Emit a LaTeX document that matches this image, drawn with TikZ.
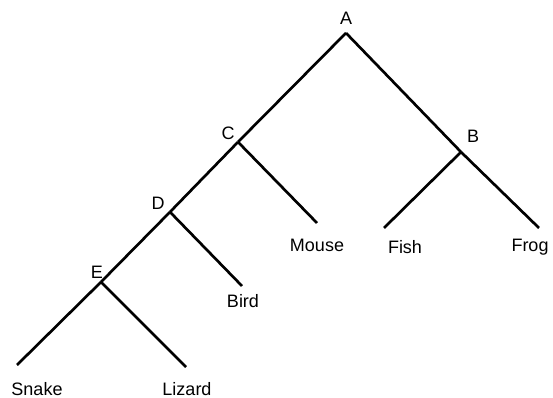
\documentclass[tikz,border=0pt]{standalone}
\usepackage{fontspec}
\setmainfont{Liberation Sans}
\usepackage{tikz}

\begin{document}
\begin{tikzpicture}[x=0.75pt,y=-0.75pt,
  branch/.style={line width=2pt},
  lbl/.style={font=\fontsize{13.5}{16}\selectfont, inner sep=0pt}]
\useasboundingbox (0,0) rectangle (553,398);
\coordinate (A) at (346,33);
\coordinate (B) at (461,152);
\coordinate (C) at (238,142);
\coordinate (D) at (170,212);
\coordinate (E) at (101,282);
\coordinate (mouse) at (317,223);
\coordinate (bird) at (242,286);
\coordinate (fish) at (384,228);
\coordinate (frog) at (539,228);
\coordinate (snake) at (17,365);
\coordinate (lizard) at (186,367);
\draw[branch] (A)-- (B);
\draw[branch] (A)-- (C);
\draw[branch] (B)-- (fish);
\draw[branch] (B)-- (frog);
\draw[branch] (C)-- (D);
\draw[branch] (C)-- (mouse);
\draw[branch] (D)-- (E);
\draw[branch] (D)-- (bird);
\draw[branch] (E)-- (snake);
\draw[branch] (E)-- (lizard);
\node[lbl] (labA) at (346,18) {A};
\node[lbl] (labB) at (473,136) {B};
\node[lbl] (labC) at (228,133) {C};
\node[lbl] (labD) at (158,203) {D};
\node[lbl] (labE) at (97,272) {E};
\node[lbl] (labmouse) at (317,245) {Mouse};
\node[lbl] (labbird) at (243,301) {Bird};
\node[lbl] (labfish) at (405,247) {Fish};
\node[lbl] (labfrog) at (530,247) {Frog};
\node[lbl] (labsnake) at (37,389) {Snake};
\node[lbl] (lablizard) at (187,389) {Lizard};
\end{tikzpicture}
\end{document}
